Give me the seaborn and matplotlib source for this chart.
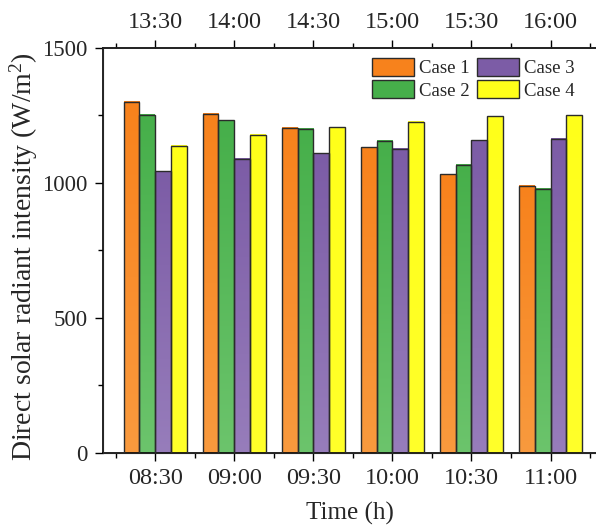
import numpy as np
import pandas as pd
import matplotlib
matplotlib.use("Agg")
import matplotlib.pyplot as plt
from matplotlib.colors import LinearSegmentedColormap
from matplotlib.patches import Patch
from matplotlib.ticker import MultipleLocator
import seaborn as sns

# dados
times_bottom = ['08:30', '09:00', '09:30', '10:00', '10:30', '11:00']
times_top = ['13:30', '14:00', '14:30', '15:00', '15:30', '16:00']
cases = ['Case 1', 'Case 2', 'Case 3', 'Case 4']
case1 = [1300, 1256, 1204, 1133, 1033, 989]
case2 = [1252, 1233, 1200, 1156, 1067, 978]
case3 = [1044, 1089, 1111, 1126, 1159, 1163]
case4 = [1137, 1178, 1207, 1226, 1248, 1250]

# cores (topo -> base) para o gradiente
cores_topo = ['#F7821C', '#46AF4A', '#7C5CA6', '#FFFF1A']
cores_base = ['#F99A3E', '#6CC46C', '#977DBB', '#FFFF2A']

df = pd.DataFrame({
    'Time': times_bottom * 4,
    'Case': np.repeat(cases, len(times_bottom)),
    'Value': case1 + case2 + case3 + case4,
})

sns.set_style('ticks')
plt.rcParams['font.family'] = ['Liberation Serif', 'DejaVu Serif']
plt.rcParams['mathtext.fontset'] = 'custom'
plt.rcParams['mathtext.rm'] = 'Liberation Serif'
plt.rcParams['mathtext.it'] = 'Liberation Serif:italic'

fig = plt.figure(figsize=(5.96, 5.30), dpi=100)
ax = fig.add_axes([0.1728, 0.1453, 0.8272, 0.7642])

sns.barplot(data=df, x='Time', y='Value', hue='Case', hue_order=cases,
            palette=cores_topo, width=0.8, edgecolor='#2b2b2b', linewidth=1,
            legend=False, ax=ax, zorder=3)

# gradiente vertical em cada barra
grad = np.linspace(0, 1, 256).reshape(-1, 1)
for cont, c_top, c_bot in zip(ax.containers, cores_topo, cores_base):
    cmap = LinearSegmentedColormap.from_list('g', [c_bot, c_top])
    for bar in cont:
        x, w, h = bar.get_x(), bar.get_width(), bar.get_height()
        ax.imshow(grad, extent=[x, x + w, 0, h], origin='lower',
                  aspect='auto', cmap=cmap, zorder=2.5)
        bar.set_facecolor('none')

ax.set_xlim(-0.66, 5.575)
ax.set_ylim(0, 1500)
ax.yaxis.set_major_locator(MultipleLocator(500))
ax.yaxis.set_minor_locator(MultipleLocator(250))
ax.xaxis.set_minor_locator(MultipleLocator(0.5))
ax.xaxis.set_minor_formatter(plt.NullFormatter())
ax.tick_params(which='major', direction='out', length=6, width=1, labelsize=16.5,
               color='black', pad=5)
ax.tick_params(axis='x', labelsize=17.5)
ax.tick_params(which='minor', direction='out', length=3.5, width=1, color='black')
ax.spines['right'].set_visible(False)
for s in ['left', 'bottom', 'top']:
    ax.spines[s].set_color('black')
    ax.spines[s].set_linewidth(1.2)

ax.set_xlabel('Time (h)', fontsize=18, labelpad=9)
ax.set_ylabel('Direct solar radiant intensity (W/m$^2$)', fontsize=20, labelpad=6)
ax.yaxis.set_label_coords(-0.127, 0.484)

# eixo superior
ax2 = ax.twiny()
ax2.set_xlim(ax.get_xlim())
ax2.set_xticks(range(len(times_top)))
ax2.set_xticklabels(times_top)
ax2.xaxis.set_minor_locator(MultipleLocator(0.5))
ax2.tick_params(which='major', direction='out', length=6, width=1, labelsize=17.5,
                color='black', pad=5)
ax2.tick_params(which='minor', direction='out', length=3.5, width=1, color='black')
ax2.spines['right'].set_visible(False)
ax2.spines['top'].set_linewidth(1.2)

handles = [Patch(facecolor=c, edgecolor='#2b2b2b', linewidth=1) for c in cores_topo]
ax.legend(handles, cases, ncol=2, loc='upper right', bbox_to_anchor=(0.98, 1.003),
          frameon=False, fontsize=13.5, handlelength=2.2, handleheight=1.1,
          handletextpad=0.3, columnspacing=0.4, labelspacing=0.15, borderaxespad=0.2)

fig.savefig('out.png', dpi=100)
